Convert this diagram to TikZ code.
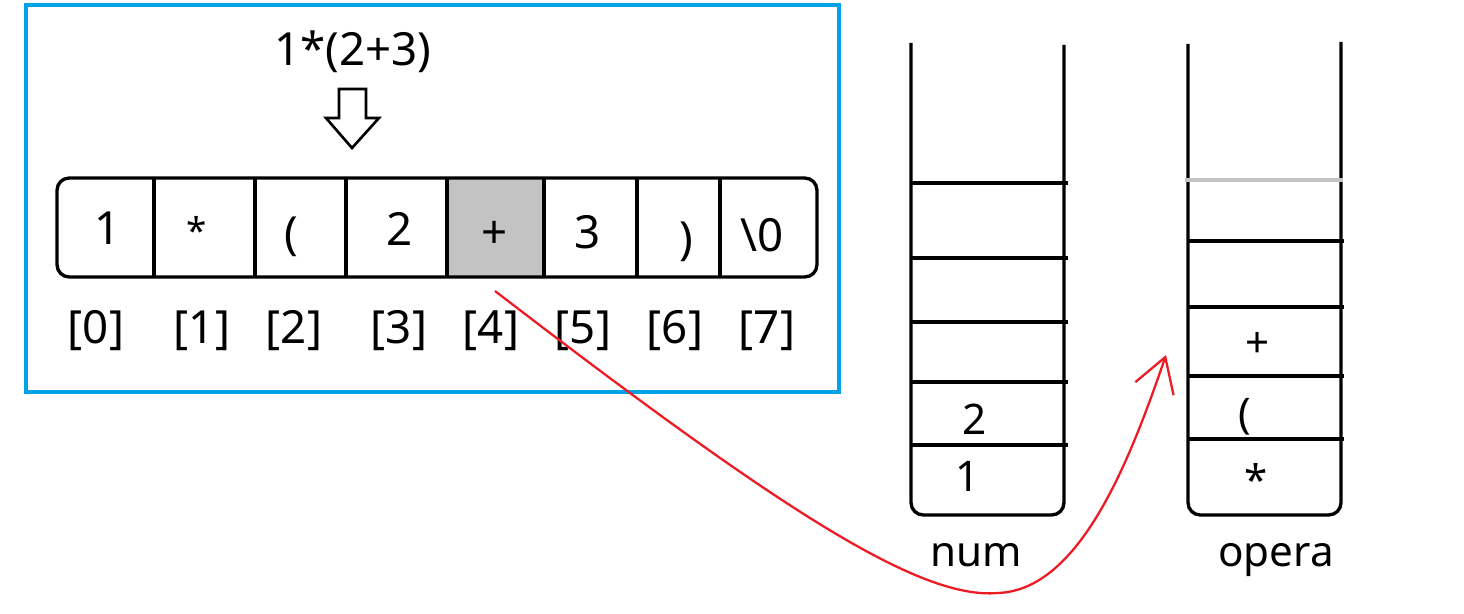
\documentclass[tikz,border=0pt]{standalone}
\usepackage{fontspec}
\setmainfont{Noto Sans}
\usetikzlibrary{arrows.meta}
\definecolor{frameblue}{RGB}{0,162,232}
\definecolor{curvered}{RGB}{237,28,36}
\definecolor{cellgray}{RGB}{195,195,195}
\tikzset{
  big/.style={font=\fontsize{26}{30}\selectfont},
  small/.style={font=\fontsize{24}{28}\selectfont},
  wall/.style={line width=1.9pt},
}
\begin{document}
\begin{tikzpicture}[x=0.02cm,y=-0.02cm]
	\useasboundingbox (0,0) rectangle (1464,614);
	
	% frame
	\draw[frameblue,line width=1.9pt] (26,5) rectangle (839,392);
	\node[big] (expr) at (353,52) {1*(2+3)};
	\draw[line width=1.5pt,line join=miter] (339,89) -- (366,89) -- (366,118) -- (379,118) -- (352,148) -- (326,118) -- (339,118) -- cycle;
	
	% array
	\fill[cellgray] (447,178) rectangle (544,277);
	\draw[wall,rounded corners=7pt] (57,178) rectangle (817,277);
	\foreach \x in {154,255,346,447,544,637,720}
	\draw[wall] (\x,178) -- (\x,277);
	\foreach \x/\y/\t [count=\i from 0] in {108/228/1, 197/230/{\fontsize{21}{24}\selectfont *}, 291/237/{(}, 400/229/2, 495/235/+, 588/232/3, 686/242/{)}, 762/235/\textbackslash 0}
	\node[big] (cell\i) at (\x,\y) {\t};
	\foreach \x [count=\i from 0] in {96,202,294,399,491,583,675,767}
	\node[big] (idx\i) at (\x,331) {[\i]};
	
	% stack num
	\draw[wall,rounded corners=7pt] (911,43) -- (911,515) -- (1064,515) -- (1064,45);
	\foreach \y in {183,258,322,382,445}
	\draw[wall] (910,\y) -- (1068,\y);
	\node[small] (num2) at (975,419) {2};
	\node[small] (num1) at (968,476) {1};
	\node[small,anchor=base] (numlabel) at (976,567) {num};
	
	% stack opera
	\draw[wall,rounded corners=7pt] (1188,44) -- (1188,515) -- (1341,515) -- (1341,42);
	\draw[wall,cellgray] (1185,180) -- (1343,180);
	\foreach \y in {241,307,376,439}
	\draw[wall] (1188,\y) -- (1344,\y);
	\node[small] (op3) at (1258,345) {+};
	\node[small] (op2) at (1245,417) {(};
	\node[small] (op1) at (1256,479) {*};
	\node[small,anchor=base] (operalabel) at (1276,567) {opera};
	
	% push +
	\coordinate (start) at (495,291);
	\coordinate (tip) at (1166,355);
	\draw[curvered,line width=1.3pt,-{Straight Barb[length=19pt,width=23pt]}] (start) .. controls (780,510) and (920,600) .. (998,593) .. controls (1080,590) and (1130,460) .. (tip);
\end{tikzpicture}
\end{document}
